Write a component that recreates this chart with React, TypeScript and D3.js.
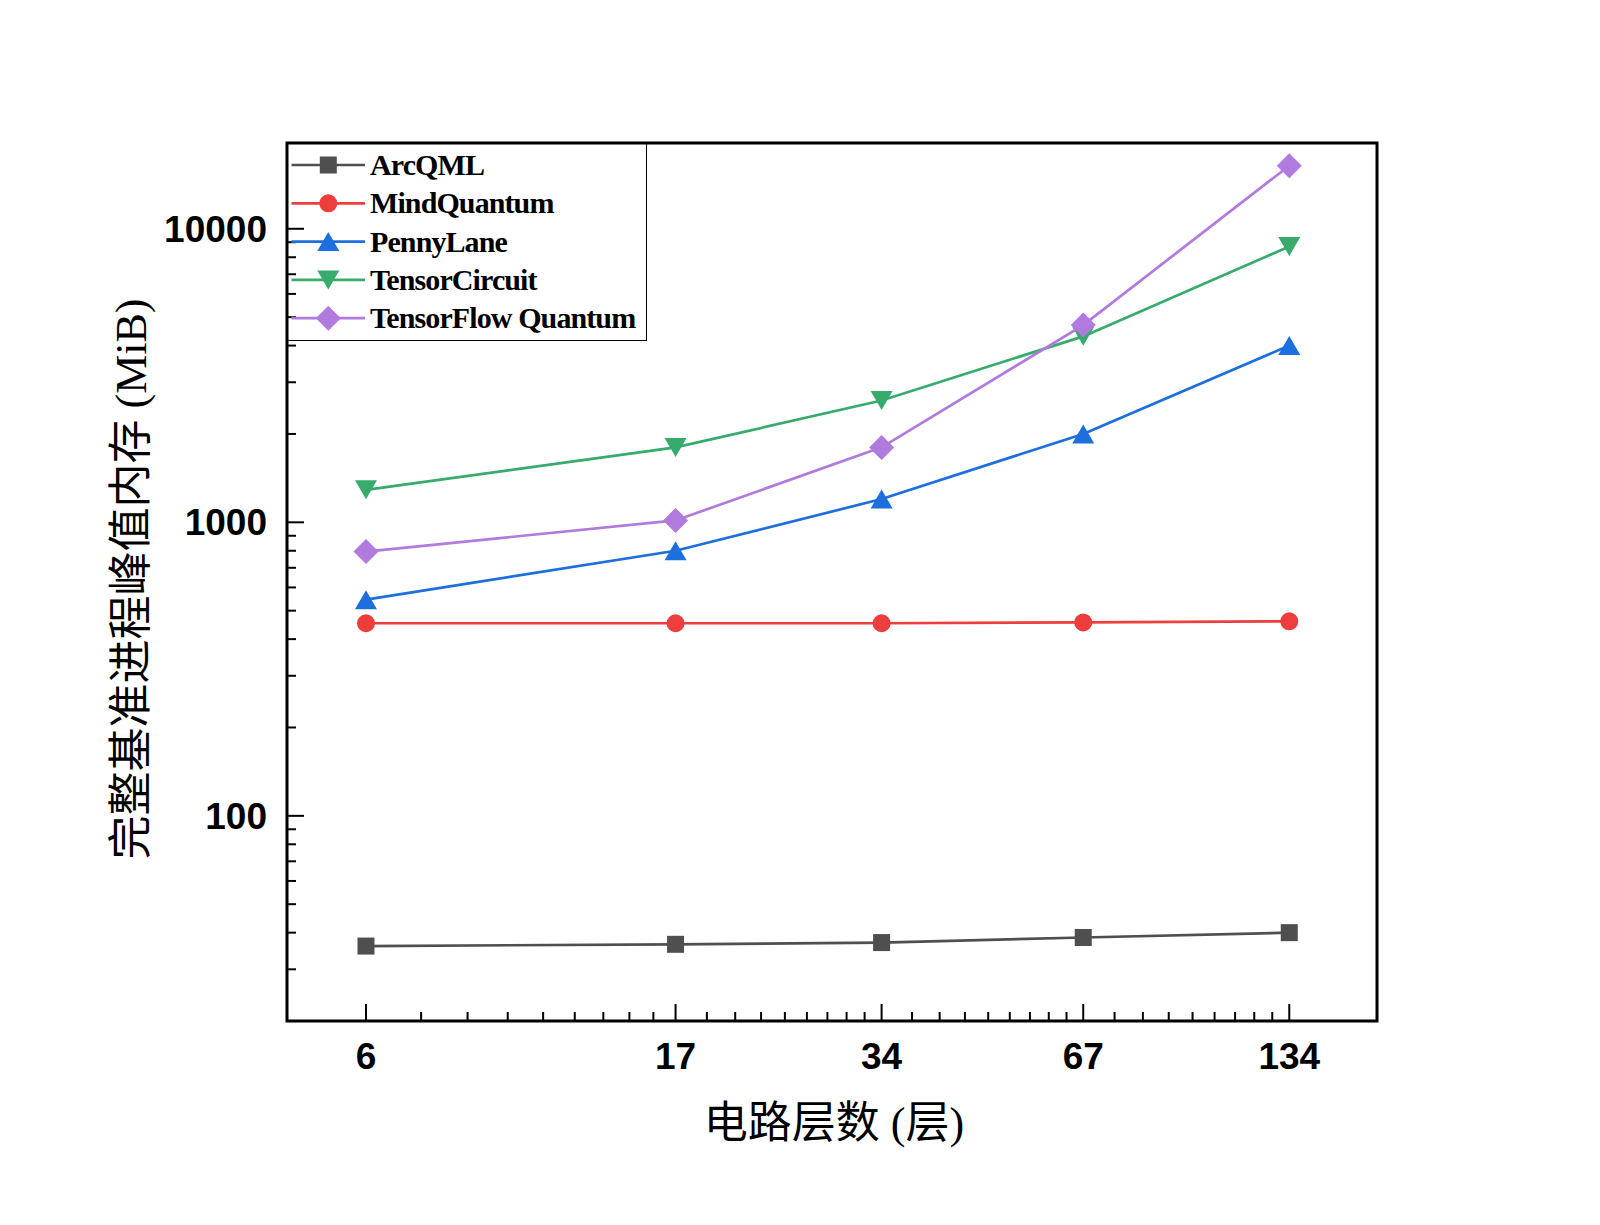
import * as d3 from "d3";

// circuit depth (layers) on the x axis
const layers = [6, 17, 34, 67, 134];

// peak memory of the full benchmark process (MiB)
const arcqml = [36, 36.5, 37, 38.5, 40];
const mindQuantum = [453, 453, 453, 456, 460];
const pennyLane = [545, 800, 1200, 2000, 4000];
const tensorCircuit = [1290, 1800, 2600, 4300, 8700];
const tfQuantum = [795, 1015, 1800, 4700, 16400];

const seriesNames = ["ArcQML", "MindQuantum", "PennyLane", "TensorCircuit", "TensorFlow Quantum"];
const yMajorTicks = [100, 1000, 10000];

type Shape = "square" | "circle" | "up" | "down" | "diamond";

const series: { name: string; values: number[]; color: string; shape: Shape }[] = [
  { name: seriesNames[0], values: arcqml, color: "#4f4f4f", shape: "square" },
  { name: seriesNames[1], values: mindQuantum, color: "#ee3d3d", shape: "circle" },
  { name: seriesNames[2], values: pennyLane, color: "#1c6fdc", shape: "up" },
  { name: seriesNames[3], values: tensorCircuit, color: "#36ab6b", shape: "down" },
  { name: seriesNames[4], values: tfQuantum, color: "#b07ade", shape: "diamond" },
];

const W = 1600;
const H = 1225;
const left = 287;
const right = 1377;
const top = 143;
const bottom = 1021;

const x = d3.scaleLog().domain([4.6, 180]).range([left, right]);
const y = d3.scaleLog().domain([20, 19600]).range([bottom, top]);

function Marker({ shape, cx, cy, color }: { shape: Shape; cx: number; cy: number; color: string }) {
  if (shape === "square") return <rect x={cx - 8.5} y={cy - 8.5} width={17} height={17} fill={color} />;
  if (shape === "circle") return <circle cx={cx} cy={cy} r={9} fill={color} />;
  if (shape === "up")
    return <path d={`M${cx},${cy - 9.5}L${cx + 11},${cy + 9.5}L${cx - 11},${cy + 9.5}Z`} fill={color} />;
  if (shape === "down")
    return <path d={`M${cx - 11},${cy - 9.5}L${cx + 11},${cy - 9.5}L${cx},${cy + 9.5}Z`} fill={color} />;
  return <path d={`M${cx},${cy - 12.5}L${cx + 12.5},${cy}L${cx},${cy + 12.5}L${cx - 12.5},${cy}Z`} fill={color} />;
}

export default function App() {
  const line = d3
    .line<number>()
    .x((_, i) => x(layers[i]))
    .y((d) => y(d));

  // 8 linear minor ticks between each pair of labelled depths
  const xMinor: number[] = [];
  for (let i = 0; i < layers.length - 1; i++) {
    const step = (layers[i + 1] - layers[i]) / 9;
    for (let k = 1; k <= 8; k++) xMinor.push(layers[i] + k * step);
  }

  const yMinor: number[] = [];
  for (const base of [10, 100, 1000, 10000]) {
    for (let k = 2; k <= 9; k++) {
      const v = base * k;
      if (v > 20 && v < 19600) yMinor.push(v);
    }
  }

  const legendRowY = (i: number) => 165 + i * 38.3;

  return (
    <svg
      width={W}
      height={H}
      style={{ position: "absolute", left: 0, top: 0, display: "block", background: "#fff" }}
    >
      <rect width={W} height={H} fill="#fff" />

      {/* series */}
      {series.map((s) => (
        <g key={s.name}>
          <path d={line(s.values) ?? ""} fill="none" stroke={s.color} strokeWidth={2.7} />
          {s.values.map((v, i) => (
            <Marker key={i} shape={s.shape} cx={x(layers[i])} cy={y(v)} color={s.color} />
          ))}
        </g>
      ))}

      {/* ticks, pointing inward */}
      <g stroke="#000" strokeWidth={2}>
        {layers.map((d) => (
          <line key={`xM${d}`} x1={x(d)} x2={x(d)} y1={bottom} y2={bottom - 17} />
        ))}
        {xMinor.map((d, i) => (
          <line key={`xm${i}`} x1={x(d)} x2={x(d)} y1={bottom} y2={bottom - 9} />
        ))}
        {yMajorTicks.map((d) => (
          <line key={`yM${d}`} x1={left} x2={left + 17} y1={y(d)} y2={y(d)} />
        ))}
        {yMinor.map((d) => (
          <line key={`ym${d}`} x1={left} x2={left + 9} y1={y(d)} y2={y(d)} />
        ))}
      </g>

      {/* frame */}
      <rect x={left} y={top} width={right - left} height={bottom - top} fill="none" stroke="#000" strokeWidth={3} />

      {/* tick labels */}
      <g fontFamily="'Liberation Sans', Arial, sans-serif" fontWeight="bold" fontSize={37} fill="#000">
        {layers.map((d) => (
          <text key={d} x={x(d)} y={1069} textAnchor="middle">
            {d}
          </text>
        ))}
        {yMajorTicks.map((d) => (
          <text key={d} x={267} y={y(d) + 13} textAnchor="end">
            {d}
          </text>
        ))}
      </g>

      {/* axis titles */}
      <text
        x={834}
        y={1123}
        textAnchor="middle"
        dominantBaseline="central"
        fontFamily="'Liberation Serif', 'Noto Sans CJK SC', serif"
        fontSize={44}
        fill="#000"
      >
        电路层数 (层)
      </text>
      <text
        transform={`translate(131,579) rotate(-90)`}
        textAnchor="middle"
        dominantBaseline="central"
        fontFamily="'Liberation Serif', 'Noto Sans CJK SC', serif"
        fontSize={44}
        fill="#000"
      >
        完整基准进程峰值内存 (MiB)
      </text>

      {/* legend */}
      <rect x={left} y={top} width={646.5 - left} height={340.5 - top} fill="none" stroke="#000" strokeWidth={1} />
      {series.map((s, i) => (
        <g key={s.name}>
          <line x1={291.5} x2={365} y1={legendRowY(i)} y2={legendRowY(i)} stroke={s.color} strokeWidth={2.7} />
          <Marker shape={s.shape} cx={328.3} cy={legendRowY(i)} color={s.color} />
          <text
            x={370}
            y={legendRowY(i) + 10}
            fontFamily="'Liberation Serif', 'Times New Roman', serif"
            fontWeight="bold"
            fontSize={30}
            letterSpacing={-0.9}
            fill="#000"
          >
            {s.name}
          </text>
        </g>
      ))}
    </svg>
  );
}
